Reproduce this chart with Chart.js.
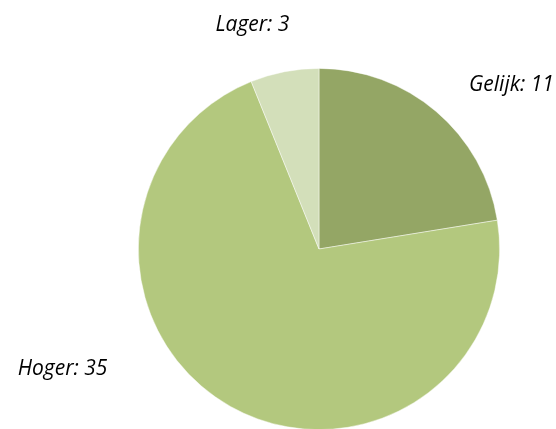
<!DOCTYPE html>
<html>
<head>
<meta charset="utf-8">
<script src="https://cdn.jsdelivr.net/npm/chart.js@4"></script>
<style>
  html, body { margin: 0; padding: 0; background: #fff; overflow: hidden; }
  #wrap { width: 556px; height: 430px; position: relative; }
</style>
</head>
<body>
<div id="wrap"><canvas id="main-chart"></canvas></div>
<script>
const categories = ["Gelijk", "Hoger", "Lager"];
const values = [11, 35, 3];

const colors = ["#94a665", "#b3c87e", "#d3dfba"];
// label placement relative to the outer edge of each slice (x, y, align)
const labelOffsets = [[33, -20, "left"], [-123, -31, "right"], [-32, -41, "center"]];

const sliceLabels = {
  id: "sliceLabels",
  afterDatasetsDraw(chart) {
    const c = chart.ctx;
    const meta = chart.getDatasetMeta(0);
    c.save();
    c.font = "italic 21px 'Open Sans'";
    c.fillStyle = "#000";
    c.textBaseline = "alphabetic";
    meta.data.forEach((arc, i) => {
      const mid = (arc.startAngle + arc.endAngle) / 2;
      const x = arc.x + Math.cos(mid) * arc.outerRadius + labelOffsets[i][0];
      const y = arc.y + Math.sin(mid) * arc.outerRadius + labelOffsets[i][1];
      c.textAlign = labelOffsets[i][2];
      c.fillText(categories[i] + ": " + values[i], x, y);
    });
    c.restore();
  }
};

const ctx = document.getElementById("main-chart").getContext("2d");
new Chart(ctx, {
  type: "pie",
  data: {
    labels: categories,
    datasets: [{
      data: values,
      backgroundColor: colors,
      borderColor: "rgba(255,255,255,0.6)",
      borderWidth: 0.75
    }]
  },
  options: {
    responsive: true,
    maintainAspectRatio: false,
    animation: false,
    layout: { padding: { top: 68, bottom: 0, left: 138, right: 56 } },
    plugins: {
      legend: { display: false },
      tooltip: { enabled: false }
    }
  },
  plugins: [sliceLabels]
});
</script>
</body>
</html>
